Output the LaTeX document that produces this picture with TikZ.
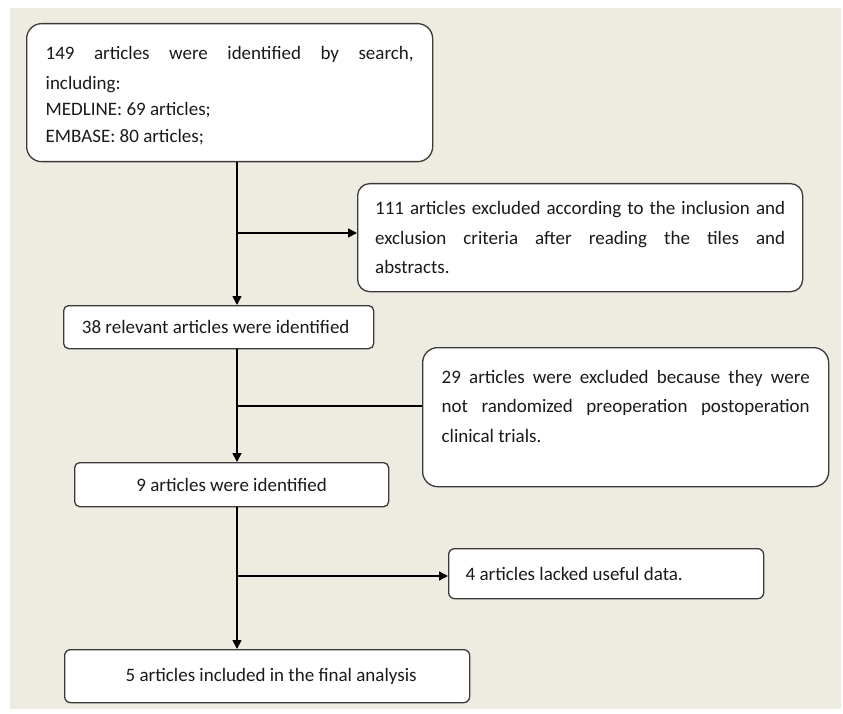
\documentclass[tikz,border=0pt]{standalone}
\usepackage{fontspec}
\setmainfont{Carlito}
\usetikzlibrary{arrows.meta}
\definecolor{bg}{HTML}{EEEBE0}
\definecolor{edge}{HTML}{3A3A3A}
\definecolor{ink}{HTML}{1A1A1A}
\begin{document}
\begin{tikzpicture}[x=1pt,y=-1pt,
  box/.style={draw=edge, line width=1.3pt, fill=white, inner sep=0pt,
    rounded corners=#1, text=ink, anchor=north west},
  box/.default=6pt,
  wide/.style={font=\fontsize{19}{29.5}\selectfont, align=justify},
  oneline/.style={font=\fontsize{19}{23}\selectfont, align=center},
  conn/.style={line width=1.6pt, draw=black},
  arr/.style={conn, -{Triangle[length=9pt,width=9pt]}}]
% canvas
\useasboundingbox (0,0) rectangle (843,714);
\fill[white] (0,0) rectangle (843,714);
\fill[bg] (10,8) rectangle (841,709);
% boxes
\node[box=15pt, minimum width=406pt, minimum height=138pt, text width=368pt,
  font=\fontsize{19}{30}\selectfont, align=justify] (b1) at (26,23)
  {149 articles were identified by search,\linebreak including:\\[-4pt]
   MEDLINE: 69 articles;\\[-3pt]
   EMBASE: 80 articles;\par\vspace*{-6pt}};
\node[box=12pt, wide, minimum width=445pt, minimum height=108pt, text width=410pt] (b2) at (357,183)
  {111 articles excluded according to the inclusion and\linebreak
   exclusion criteria after reading the tiles and\linebreak abstracts.};
\node[box=5pt, oneline, minimum width=310pt, minimum height=43pt] (b3) at (63,305)
  {38 relevant articles were identified\hspace*{6pt}};
\node[box=15pt, wide, minimum width=406pt, minimum height=139pt, text width=368pt] (b4) at (422,347)
  {29 articles were excluded because they were\linebreak
   not randomized preoperation postoperation\linebreak clinical trials.\par\vspace*{22pt}};
\node[box=5pt, oneline, minimum width=314pt, minimum height=44pt] (b5) at (74,462)
  {9 articles were identified};
\node[box=6pt, minimum width=315pt, minimum height=50pt, text width=281pt,
  font=\fontsize{19}{23}\selectfont, align=flush left] (b6) at (448,548)
  {4 articles lacked useful data.};
\node[box=6pt, oneline, minimum width=405pt, minimum height=53pt] (b7) at (64,649)
  {\hspace*{8pt}5 articles included in the final analysis};
% connectors
\coordinate (sp) at (237,0);
\coordinate (s1) at (237,233);
\coordinate (s2) at (237,406);
\coordinate (s3) at (237,576);
\draw[arr] (b1.south -| sp) -- (b3.north -| sp);
\draw[arr] (b3.south -| sp) -- (b5.north -| sp);
\draw[arr] (b5.south -| sp) -- (b7.north -| sp);
\draw[arr] (s1) -- (s1 -| b2.west);
\draw[conn] (s2) -- (s2 -| b4.west);
\draw[arr] (s3) -- (s3 -| b6.west);
\end{tikzpicture}
\end{document}
